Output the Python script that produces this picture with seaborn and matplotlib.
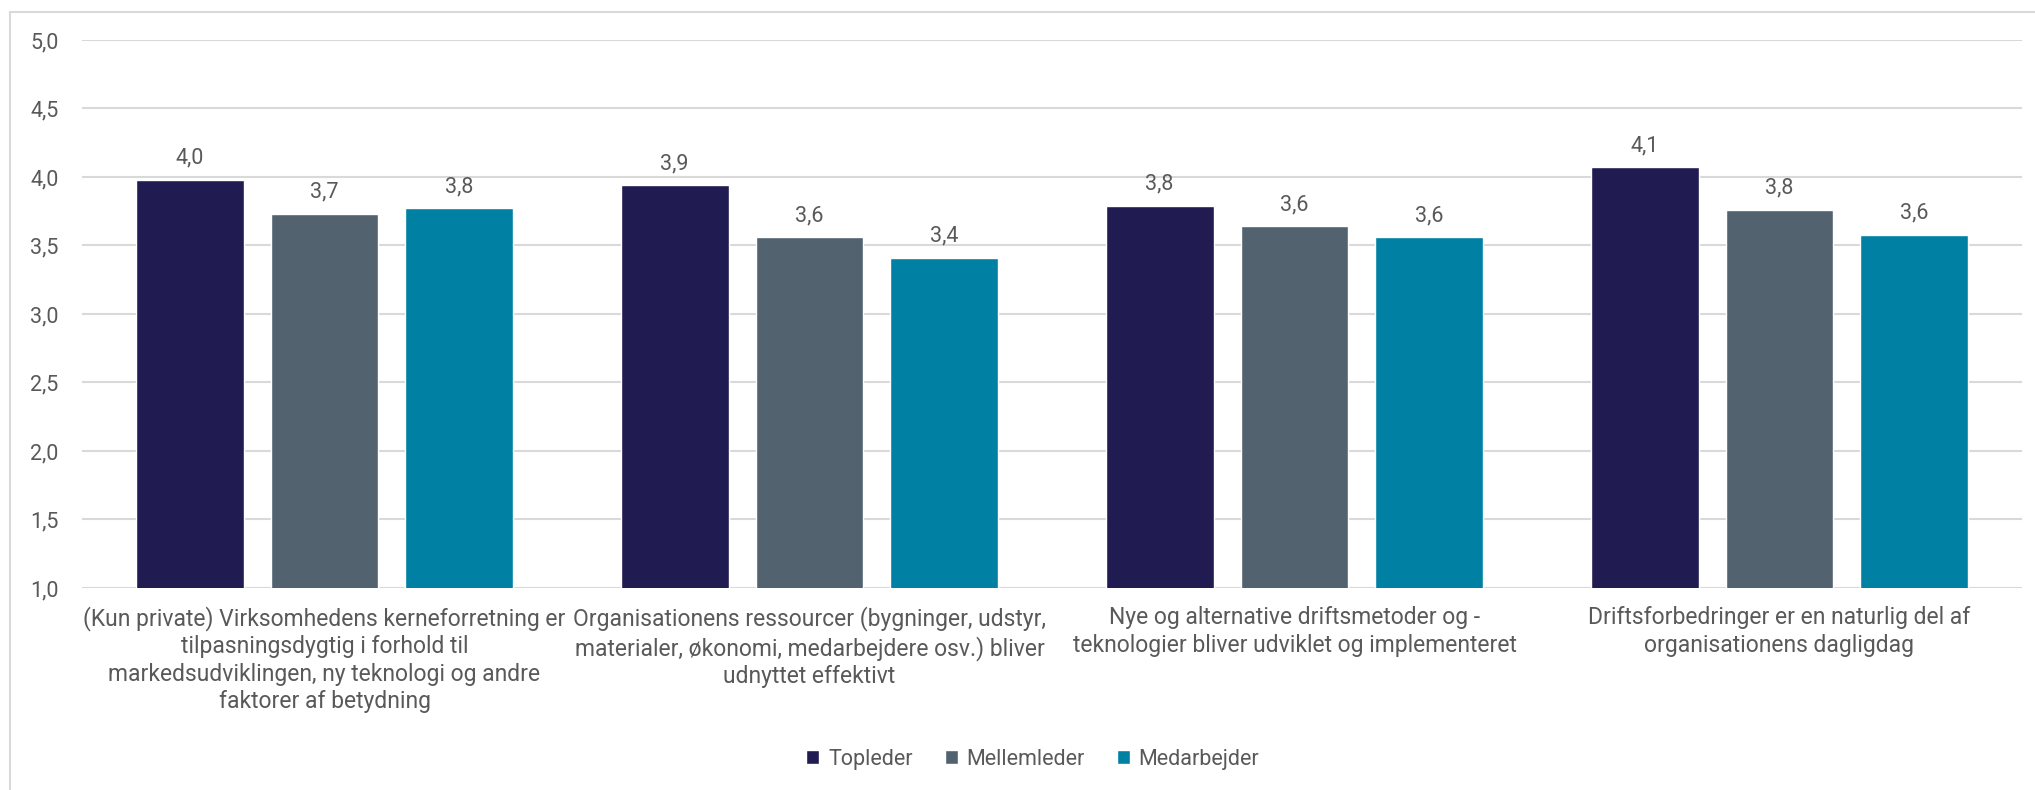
import pandas as pd
import seaborn as sns
import matplotlib.pyplot as plt
from matplotlib.patches import Rectangle

categories = [
    "(Kun private) Virksomhedens kerneforretning er\ntilpasningsdygtig i forhold til\nmarkedsudviklingen, ny teknologi og andre\nfaktorer af betydning",
    "Organisationens ressourcer (bygninger, udstyr,\nmaterialer, økonomi, medarbejdere osv.) bliver\nudnyttet effektivt",
    "Nye og alternative driftsmetoder og -\nteknologier bliver udviklet og implementeret",
    "Driftsforbedringer er en naturlig del af\norganisationens dagligdag",
]
groups = ["Topleder", "Mellemleder", "Medarbejder"]
topleder = [3.98, 3.94, 3.79, 4.07]
mellemleder = [3.73, 3.56, 3.64, 3.76]
medarbejder = [3.77, 3.41, 3.56, 3.58]
colors = ["#201b50", "#53626f", "#0080a3"]

yticks = [1.0, 1.5, 2.0, 2.5, 3.0, 3.5, 4.0, 4.5, 5.0]

rows = []
for g, vals in zip(groups, [topleder, mellemleder, medarbejder]):
    for c, v in zip(categories, vals):
        rows.append({"kategori": c, "gruppe": g, "score": v})
data = pd.DataFrame(rows)

sns.set_style("white")
plt.rcParams["font.family"] = ["Roboto", "DejaVu Sans"]
text_col = "#595959"

fig = plt.figure(figsize=(20.35, 7.9), dpi=100)
ax = fig.add_axes([0.0403, 0.2557, 0.9533, 0.6937])

sns.barplot(data=data, x="kategori", y="score", hue="gruppe", palette=colors,
            width=0.834, gap=0.2, saturation=1, ax=ax, zorder=3, legend=True)

ax.set_ylim(1.0, 5.0)
ax.set_yticks(yticks)
ax.set_yticklabels([f"{t:.1f}".replace(".", ",") for t in yticks])
ax.grid(axis="y", color="#d9d9d9", linewidth=1.5, zorder=0)
ax.set_axisbelow(True)
for s in ax.spines.values():
    s.set_visible(False)
ax.tick_params(axis="y", length=0, pad=17, labelsize=15.5, labelcolor=text_col)
ax.tick_params(axis="x", length=0, pad=13, labelsize=16.5, labelcolor=text_col)
for lab in ax.get_xticklabels():
    lab.set_linespacing(1.25)
    lab.set_verticalalignment("top")
ax.set_xlabel("")
ax.set_ylabel("")

for cont in ax.containers:
    ax.bar_label(cont, labels=[f"{b.get_height():.1f}".replace(".", ",") for b in cont],
                 padding=8, fontsize=15.5, color=text_col)

handles, labels = ax.get_legend_handles_labels()
ax.get_legend().remove()
fig.legend(handles, labels, loc="center", bbox_to_anchor=(0.5075, 0.039), ncol=3,
           frameon=False, fontsize=15.5, handlelength=0.6, handleheight=0.6,
           handletextpad=0.4, columnspacing=1.5, labelcolor=text_col)

fig.patches.append(Rectangle((10 / 2035, -0.05), 1.2, 1.05 - 12 / 790,
                             transform=fig.transFigure, fill=False,
                             edgecolor="#d9d9d9", linewidth=1.5))

fig.savefig("out.png", dpi=100)
